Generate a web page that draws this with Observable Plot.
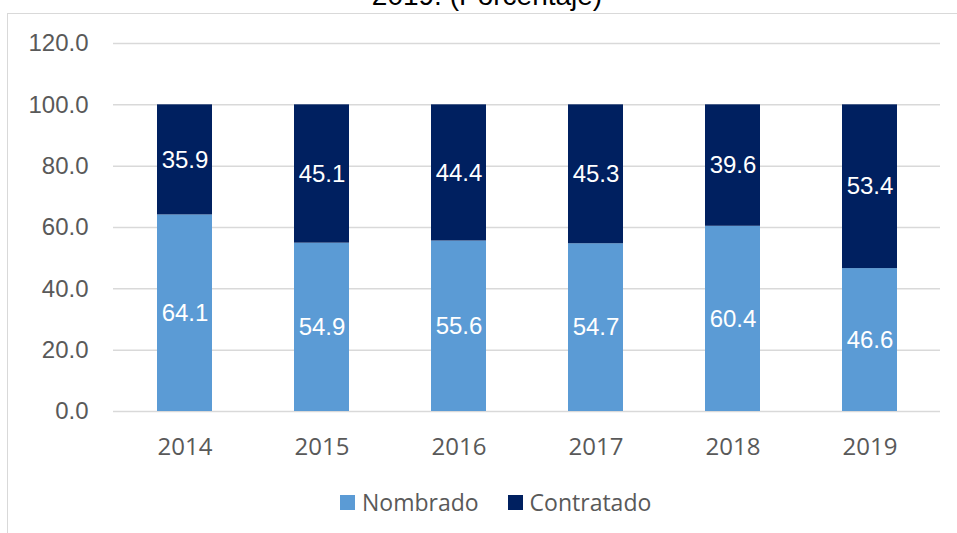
<!DOCTYPE html>
<html>
<head>
<meta charset="utf-8">
<script src="https://cdn.jsdelivr.net/npm/d3@7"></script>
<script src="https://cdn.jsdelivr.net/npm/@observablehq/plot@0.6"></script>
<style>
  html, body { margin: 0; padding: 0; background: #fff; }
  #wrap { position: relative; width: 957px; height: 533px; overflow: hidden; background: #fff; }
  #frame { position: absolute; left: 7px; top: 13px; width: 1000px; height: 600px; border: 1.5px solid #d9d9d9; box-sizing: border-box; }
  #title { position: absolute; top: -18px; left: 487px; transform: translateX(-50%); font-family: "Liberation Sans", Arial, sans-serif; font-size: 28px; line-height: 28px; color: #000; white-space: nowrap; }
  #chart { position: absolute; left: 0; top: 0; }
  #legend { position: absolute; top: 487px; left: 340px; display: flex; font-family: "Open Sans", sans-serif; font-size: 23px; line-height: 30px; color: #595959; }
  .item { display: flex; align-items: center; margin: 0 29px 0 0; }
  .sw { width: 15px; height: 15px; margin-right: 7px; }
</style>
</head>
<body>
<div id="wrap">
  <div id="frame"></div>
  <div id="title">2019. (Porcentaje)</div>
  <div id="chart"></div>
  <div id="legend"></div>
</div>
<script>
const years = ["2014", "2015", "2016", "2017", "2018", "2019"];
const nombrado = [64.1, 54.9, 55.6, 54.7, 60.4, 46.6];
const contratado = [35.9, 45.1, 44.4, 45.3, 39.6, 53.4];
const series = ["Nombrado", "Contratado"];
const colors = ["#5b9bd5", "#002060"];
const yTicks = [0, 20, 40, 60, 80, 100, 120];

const data = [];
years.forEach((y, i) => {
  data.push({year: y, serie: "Nombrado", value: nombrado[i]});
  data.push({year: y, serie: "Contratado", value: contratado[i]});
});

const fmt = d3.format(".1f");
const plot = Plot.plot({
  width: 957,
  height: 470,
  marginLeft: 113,
  marginRight: 17,
  marginTop: 43,
  marginBottom: 59,
  style: {background: "transparent", overflow: "visible"},
  x: {domain: years, paddingInner: 0.6, paddingOuter: 0.3, label: null},
  y: {domain: [0, 120], label: null},
  color: {domain: series, range: colors},
  marks: [
    Plot.ruleY(yTicks, {stroke: "#d9d9d9", strokeWidth: 1.5}),
    Plot.barY(data, Plot.stackY({x: "year", y: "value", fill: "serie", order: series})),
    Plot.text(data, Plot.stackY({x: "year", y: "value", z: "serie", order: series, text: d => fmt(d.value), fill: "white", fontSize: 24, fontFamily: "Liberation Sans, Arial, sans-serif"})),
    Plot.axisY({ticks: yTicks, tickSize: 0, tickPadding: 25, tickFormat: fmt, fontSize: 24, fontFamily: "Liberation Sans, Arial, sans-serif", fill: "#595959", label: null}),
    Plot.axisX({tickSize: 0, tickPadding: 26, fontSize: 24, fontFamily: "Open Sans, sans-serif", fill: "#595959", label: null})
  ]
});
document.getElementById("chart").appendChild(plot);

const legend = document.getElementById("legend");
series.forEach((s, i) => {
  const it = document.createElement("div");
  it.className = "item";
  const sw = document.createElement("span");
  sw.className = "sw";
  sw.style.background = colors[i];
  it.appendChild(sw);
  const t = document.createElement("span");
  t.textContent = s;
  it.appendChild(t);
  legend.appendChild(it);
});
</script>
</body>
</html>
